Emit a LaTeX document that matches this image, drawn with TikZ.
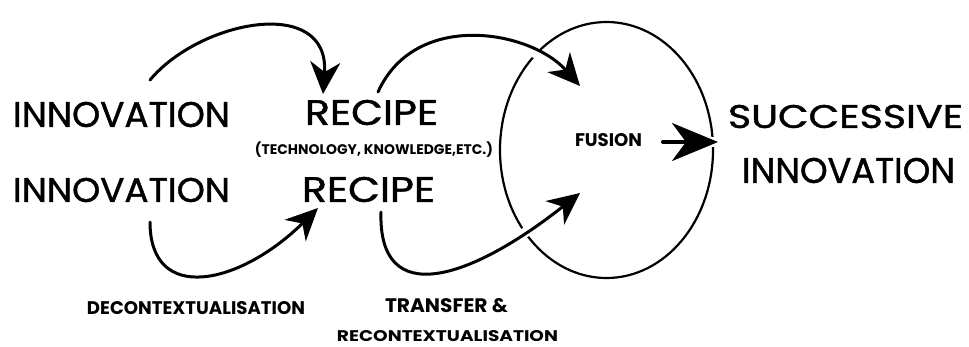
\documentclass[tikz,border=0pt]{standalone}
\usepackage{fontspec}
\setmainfont{Poppins}
\newfontfamily\midfont[FakeBold=1.2]{Poppins}
\usepackage{graphicx}
\usetikzlibrary{arrows.meta,shapes.geometric}
\newcommand\fitbox[3]{\resizebox{#1}{#2}{#3}}
\tikzset{
  lbl/.style={inner sep=0pt, anchor=center},
  conn/.style={line width=3pt, line cap=round, -{Stealth[length=32pt,width=30pt,inset=10pt]}},
  halo/.style={preaction={draw=white, line width=10pt, -}},
  ring/.style={line width=2.2pt}
}
\begin{document}
\begin{tikzpicture}[x=1pt,y=-1pt]
\useasboundingbox[fill=white] (0,0) rectangle (969,346);
% nodes
\node[lbl] (inn1) at (121.5,114.5) {\fitbox{217pt}{25pt}{\midfont INNOVATION}};
\node[lbl] (inn2) at (121.5,190) {\fitbox{217pt}{24pt}{\midfont INNOVATION}};
\node[lbl] (rec1) at (371.5,112.5) {\fitbox{133pt}{25pt}{\midfont RECIPE}};
\node[lbl] (rec2) at (368.5,189.5) {\fitbox{133pt}{25pt}{\midfont RECIPE}};
\node[lbl] (tech) at (374,150) {\fitbox{238pt}{!}{\bfseries(TECHNOLOGY, KNOWLEDGE,ETC.)}};
\node[lbl] (fusion) at (608.5,140) {\fitbox{67pt}{13pt}{\bfseries FUSION}};
\node[lbl] (succ) at (845.5,116.5) {\fitbox{235pt}{23pt}{\midfont SUCCESSIVE}};
\node[lbl] (inn3) at (848.5,170.5) {\fitbox{213pt}{25pt}{\midfont INNOVATION}};
\node[lbl] (decon) at (196,308.5) {\fitbox{218pt}{13pt}{\bfseries DECONTEXTUALISATION}};
\node[lbl] (transf) at (446.5,305.5) {\fitbox{123pt}{14pt}{\bfseries TRANSFER \&}};
\node[lbl] (recon) at (447.5,336.5) {\fitbox{221pt}{11pt}{\bfseries RECONTEXTUALISATION}};
% ellipse
\node[draw, ring, ellipse, minimum width=213pt, minimum height=256pt, inner sep=0pt] (ell) at (606.5,150) {};
% connector end points
\coordinate (a1s) at (150,80);  \coordinate (a1e) at (323,94);
\coordinate (a2s) at (378,92);  \coordinate (a2e) at (580,86);
\coordinate (a3s) at (150,222); \coordinate (a3e) at (318,208);
\coordinate (a4s) at (381,212); \coordinate (a4e) at (580,193);
\coordinate (a5s) at (663,142); \coordinate (a5e) at (718,142);
% connectors
\draw[conn] (a1s) .. controls (200,20) and (330,-5) .. (a1e);
\draw[conn, halo] (a2s) .. controls (415,10) and (530,30) .. (a2e);
\draw[conn] (a3s) .. controls (150,305) and (240,285) .. (a3e);
\draw[conn, halo] (a4s) .. controls (378,310) and (470,280) .. (a4e);
\draw[conn, halo, line width=4pt, -{Stealth[length=46pt,width=38pt,inset=14pt]}] (a5s) -- (a5e);
\end{tikzpicture}
\end{document}
